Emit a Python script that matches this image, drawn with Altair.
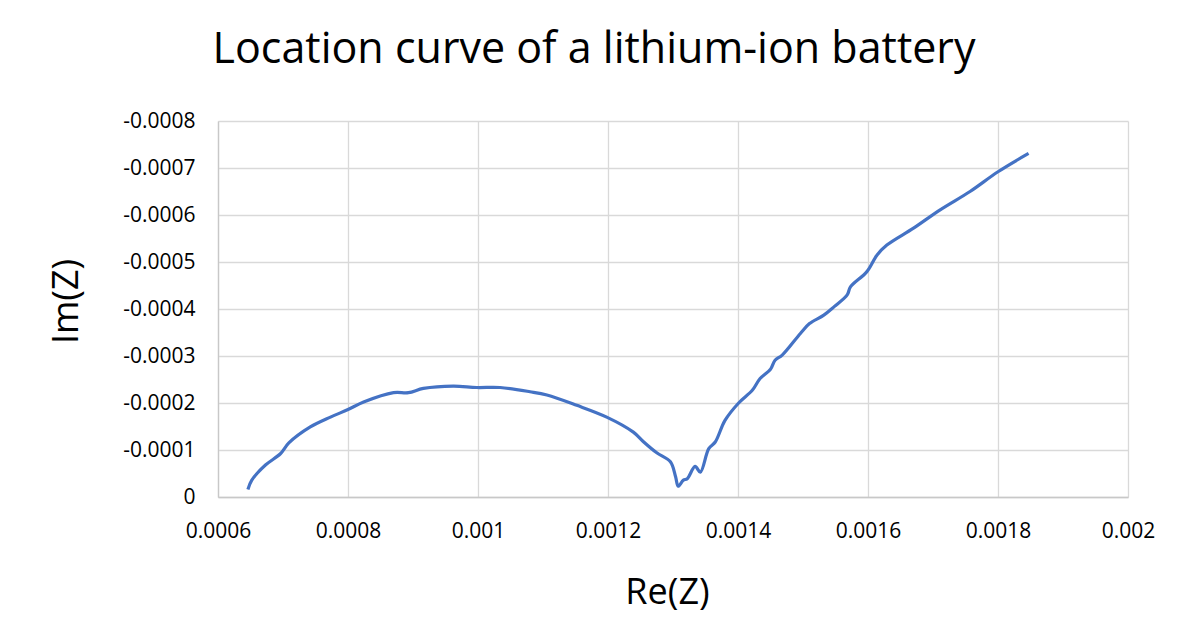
import altair as alt
import pandas as pd

# Nyquist data (Re(Z), Im(Z))
re_z = [0.000646, 0.000652, 0.000673, 0.000696, 0.000709, 0.000742, 0.000773, 0.000800,
        0.000824, 0.000870, 0.000893, 0.000916, 0.000962, 0.000998, 0.001034, 0.001080,
        0.001106, 0.001152, 0.001198, 0.001239, 0.001255, 0.001275, 0.001296, 0.001304,
        0.001308, 0.001316, 0.001322, 0.001334, 0.001342, 0.001355, 0.001365, 0.001380,
        0.001401, 0.001422, 0.001434, 0.001450, 0.001457, 0.001468, 0.001496, 0.001510,
        0.001532, 0.001548, 0.001568, 0.001573, 0.001598, 0.001614, 0.001629, 0.001670,
        0.001711, 0.001757, 0.001800, 0.001847]
im_z = [-1.6e-5, -3.6e-5, -6.8e-5, -9.2e-5, -1.15e-4, -1.49e-4, -1.70e-4, -1.86e-4,
        -2.02e-4, -2.22e-4, -2.22e-4, -2.31e-4, -2.36e-4, -2.33e-4, -2.33e-4, -2.24e-4,
        -2.17e-4, -1.95e-4, -1.70e-4, -1.38e-4, -1.17e-4, -9.4e-5, -7.5e-5, -4.3e-5,
        -2.3e-5, -3.6e-5, -3.9e-5, -6.5e-5, -5.3e-5, -1.03e-4, -1.17e-4, -1.63e-4,
        -2.00e-4, -2.27e-4, -2.52e-4, -2.72e-4, -2.91e-4, -3.02e-4, -3.48e-4, -3.69e-4,
        -3.87e-4, -4.05e-4, -4.30e-4, -4.47e-4, -4.79e-4, -5.15e-4, -5.36e-4, -5.72e-4,
        -6.11e-4, -6.50e-4, -6.92e-4, -7.31e-4]

x_ticks = [0.0006, 0.0008, 0.001, 0.0012, 0.0014, 0.0016, 0.0018, 0.002]
y_ticks = [0, -0.0001, -0.0002, -0.0003, -0.0004, -0.0005, -0.0006, -0.0007, -0.0008]

df = pd.DataFrame({"re": re_z, "im": im_z, "order": list(range(len(re_z)))})

FONT = "Open Sans"
GRID = "#d9d9d9"

chart = alt.Chart(df).mark_line(
    color="#4472C4", strokeWidth=3.2, interpolate="catmull-rom"
).encode(
    x=alt.X("re:Q",
            scale=alt.Scale(domain=[0.0006, 0.002], nice=False, zero=False),
            axis=alt.Axis(values=x_ticks, title="Re(Z)",
                          labelExpr="format(datum.value, '~g')",
                          labelFlush=False, labelOverlap=False,
                          titleX=449, titleY=106, titleAlign="center",
                          titleBaseline="alphabetic")),
    y=alt.Y("im:Q",
            scale=alt.Scale(domain=[-0.0008, 0], nice=False, zero=False, reverse=True),
            axis=alt.Axis(values=y_ticks, title="Im(Z)",
                          labelExpr="replace(format(datum.value, '~g'), '\u2212', '-')",
                          labelFlush=False, labelOverlap=False,
                          titleX=-141, titleY=180, titleAngle=270, titleAlign="center",
                          titleBaseline="alphabetic")),
    order="order:Q",
).properties(
    width=910,
    height=376,
    background="white",
    autosize=alt.AutoSizeParams(type="none"),
    padding={"left": 210, "top": 113, "right": 40, "bottom": 130},
    title=alt.TitleParams(
        "Location curve of a lithium-ion battery",
        font=FONT, fontSize=43, fontWeight="normal", color="#000000",
        anchor="middle", dx=-79, offset=4, baseline="alphabetic",
    ),
).configure_view(
    stroke=None
).configure_axis(
    grid=True, gridColor=GRID, gridWidth=1.3,
    domainColor="#c8c8c8", domainWidth=1.3,
    ticks=False, tickSize=0,
    labelFont=FONT, labelFontSize=21, labelColor="#000000", labelPadding=23,
    titleFont=FONT, titleFontSize=36, titleFontWeight="normal", titleColor="#000000",
)

chart.save("out.html", embed_options={"renderer": "svg", "actions": False})
